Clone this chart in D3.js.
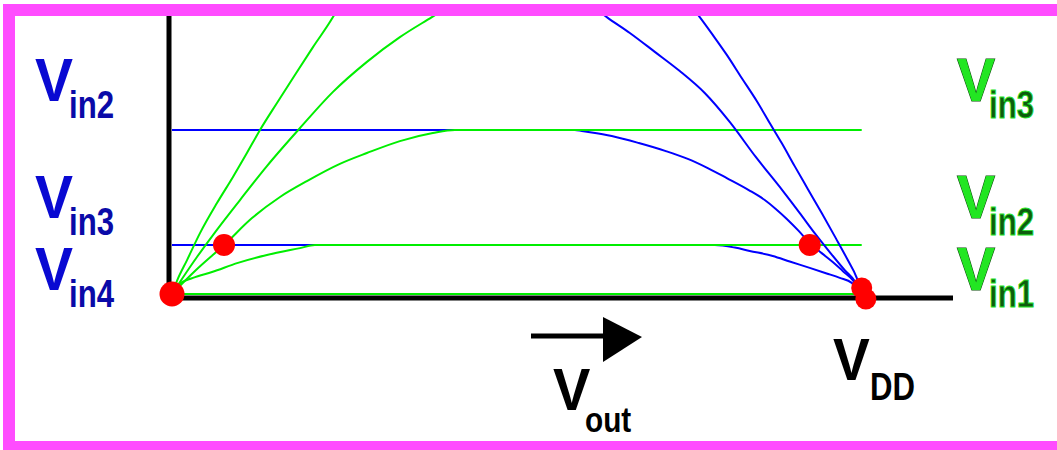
<!DOCTYPE html>
<html>
<head>
<meta charset="utf-8">
<script src="https://cdn.jsdelivr.net/npm/d3@7/dist/d3.min.js"></script>
<style>
  html, body { margin: 0; padding: 0; background: #fff; }
  svg { display: block; }
  text { font-family: "Liberation Sans", Arial, Helvetica, sans-serif; font-weight: bold; }
</style>
</head>
<body>
<div id="chart"></div>
<script>
// CMOS inverter load-line diagram: nMOS (green) and pMOS (blue) drain
// current against output voltage for several gate inputs.

const vdd = 5;

// nMOS pull-down curves (output voltage, drain current)
const nmosVin1V = [0, 5.0];
const nmosVin1I = [0, 0];
const nmosVin2V = [0, 0.043, 0.152, 0.290, 0.478, 0.688, 0.928, 1.036, 5.0];
const nmosVin2I = [0, 0.32, 0.58, 0.79, 1.12, 1.40, 1.65, 1.76, 1.76];
const nmosVin3V = [0, 0.174, 0.377, 0.580, 0.783, 0.978, 1.217, 1.413, 1.652, 1.891, 2.051, 5.0];
const nmosVin3I = [0, 0.86, 1.76, 2.73, 3.49, 4.06, 4.68, 5.07, 5.50, 5.79, 5.90, 5.90];
const nmosVin4V = [0, 0.072, 0.181, 0.297, 0.493, 0.688, 0.928, 1.167, 1.413, 1.652, 1.884, 2.014];
const nmosVin4I = [0, 0.54, 1.33, 2.12, 3.38, 4.60, 5.97, 7.27, 8.35, 9.24, 9.96, 10.36];
const nmosVin5V = [0, 0.036, 0.109, 0.203, 0.326, 0.442, 0.543, 0.638, 0.761, 0.891, 1.022, 1.167, 1.217];
const nmosVin5I = [0, 0.47, 1.22, 2.19, 3.27, 4.21, 5.07, 5.90, 6.87, 7.88, 8.88, 9.96, 10.40];

// pMOS pull-up curves (output voltage, drain current)
const pmosVin3V = [0, 3.935, 4.080, 4.188, 4.355, 4.478, 4.623, 4.746, 4.841, 4.928, 5.0];
const pmosVin3I = [1.76, 1.76, 1.67, 1.55, 1.37, 1.17, 0.94, 0.74, 0.58, 0.40, 0];
const pmosVin2V = [0, 2.920, 2.971, 3.188, 3.384, 3.580, 3.739, 3.884, 4.022, 4.181, 4.297, 4.377, 4.457, 4.543, 4.623, 4.710, 4.790, 4.862, 4.935, 5.0];
const pmosVin2I = [5.90, 5.90, 5.86, 5.68, 5.43, 5.14, 4.86, 4.53, 4.17, 3.74, 3.38, 3.06, 2.70, 2.27, 1.83, 1.47, 1.15, 0.83, 0.50, 0];
const pmosVin1V = [3.065, 3.152, 3.319, 3.500, 3.681, 3.862, 4.043, 4.232, 4.428, 4.551, 4.659, 4.768, 4.877, 4.949, 5.0];
const pmosVin1I = [10.29, 9.96, 9.39, 8.71, 8.02, 7.23, 6.19, 4.93, 3.71, 2.91, 2.19, 1.51, 0.86, 0.47, 0];
const pmosVin0V = [3.775, 3.826, 3.920, 4.022, 4.130, 4.239, 4.333, 4.420, 4.514, 4.609, 4.710, 4.812, 4.899, 4.964, 5.0];
const pmosVin0I = [10.29, 9.96, 9.32, 8.60, 7.77, 6.94, 6.15, 5.43, 4.60, 3.78, 2.91, 2.01, 1.22, 0.58, 0];

// operating points (where pull-up and pull-down currents meet)
const pointV = [0, 0.377, 4.623, 5.0, 5.03];
const pointI = [0, 1.76, 1.76, 0.22, -0.18];

// axis labels
const leftSubs = ["in2", "in3", "in4"];
const rightSubs = ["in3", "in2", "in1"];
const xAxisSub = "out";
const vddSub = "DD";

const W = 1057, H = 450;
const svg = d3.select("#chart").append("svg").attr("width", W).attr("height", H);

const x = d3.scaleLinear().domain([0, 5.64]).range([172, 950]);
const y = d3.scaleLinear().domain([0, 10]).range([294, 16]);

svg.append("defs").append("clipPath").attr("id", "plot")
  .append("rect").attr("x", 0).attr("y", 16).attr("width", W).attr("height", H - 16);

// axes (no ticks, heavy black lines)
const xAxis = svg.append("g").attr("transform", "translate(0,297.5)")
  .call(d3.axisBottom(x).tickValues([]).tickSizeOuter(0));
const yAxis = svg.append("g").attr("transform", "translate(168.5,0)")
  .call(d3.axisLeft(y).tickValues([]).tickSizeOuter(0));
[xAxis, yAxis].forEach(g => g.select(".domain")
  .attr("stroke", "#000").attr("stroke-width", 5).attr("stroke-linecap", "square"));

const zip = (vs, is) => vs.map((v, i) => [v, is[i]]);
const line = d3.line().x(d => x(d[0])).y(d => y(d[1])).curve(d3.curveMonotoneX);

const plot = svg.append("g").attr("clip-path", "url(#plot)");
const draw = (vs, is, color) => plot.append("path")
  .attr("d", line(zip(vs, is)))
  .attr("fill", "none").attr("stroke", color).attr("stroke-width", 2);

const blue = "#0000ff", green = "#00ee00";

// pMOS curves with saturation plateaus sit beneath the nMOS set
draw(pmosVin3V, pmosVin3I, blue);
draw(pmosVin2V, pmosVin2I, blue);

draw(nmosVin1V, nmosVin1I, green);
draw(nmosVin2V, nmosVin2I, green);
draw(nmosVin3V, nmosVin3I, green);
draw(nmosVin4V, nmosVin4I, green);
draw(nmosVin5V, nmosVin5I, green);

draw(pmosVin1V, pmosVin1I, blue);
draw(pmosVin0V, pmosVin0I, blue);

// operating points
svg.append("g").selectAll("circle")
  .data(zip(pointV, pointI))
  .join("circle")
  .attr("cx", d => x(d[0])).attr("cy", d => y(d[1]))
  .attr("r", (d, i) => i === 0 ? 12.5 : (i < 3 ? 11 : 10.5))
  .attr("fill", "#ff0000");

// subscripted voltage label
function vLabel(x0, base, sub, o) {
  const g = svg.append("g");
  g.append("text")
    .attr("transform", `translate(${x0},${base}) scale(${o.vs},1)`)
    .attr("font-size", o.vSize).attr("fill", o.vFill)
    .attr("stroke", o.vStroke || "none").attr("stroke-width", o.vStrokeW || 0)
    .attr("paint-order", "stroke")
    .text("V");
  g.append("text")
    .attr("transform", `translate(${x0 + o.dx},${base + o.dy}) scale(${o.ss},1)`)
    .attr("font-size", o.sSize).attr("fill", o.sFill)
    .attr("stroke", o.sStroke || "none").attr("stroke-width", o.sStrokeW || 0)
    .text(sub);
}

const rowBase = [101, 218, 290];
const blueStyle = { vs: 0.92, vSize: 62, vFill: "#0909d2", dx: 34, dy: 17, ss: 0.8, sSize: 39, sFill: "#0a0aa8" };
const greenStyle = { vs: 0.92, vSize: 62, vFill: "#22e622", vStroke: "#0b4a0b", vStrokeW: 1.2,
                     dx: 32, dy: 17, ss: 0.8, sSize: 39, sFill: "#0e5c0e", sStroke: "#26e626", sStrokeW: 0.9 };

leftSubs.forEach((s, i) => vLabel(35, rowBase[i], s, blueStyle));
rightSubs.forEach((s, i) => vLabel(957, rowBase[i], s, greenStyle));

// output-voltage arrow and labels
const arrow = svg.append("g");
arrow.append("line").attr("x1", 531).attr("x2", 610).attr("y1", 336).attr("y2", 336)
  .attr("stroke", "#000").attr("stroke-width", 5);
arrow.append("path").attr("d", "M603,317 L642,337 L603,362 Z").attr("fill", "#000");

vLabel(553, 410, xAxisSub, { vs: 0.95, vSize: 59, vFill: "#000", dx: 32, dy: 22, ss: 0.85, sSize: 35, sFill: "#000" });
vLabel(833, 380, vddSub, { vs: 0.92, vSize: 60, vFill: "#000", dx: 37, dy: 20, ss: 0.82, sSize: 38, sFill: "#000" });

// magenta frame (top, left, bottom)
const frame = svg.append("g").attr("fill", "#ff4cff");
frame.append("rect").attr("x", 3).attr("y", 4).attr("width", W - 3).attr("height", 12);
frame.append("rect").attr("x", 3).attr("y", 4).attr("width", 12).attr("height", H - 4);
frame.append("rect").attr("x", 3).attr("y", 441).attr("width", W - 3).attr("height", 9);
</script>
</body>
</html>
